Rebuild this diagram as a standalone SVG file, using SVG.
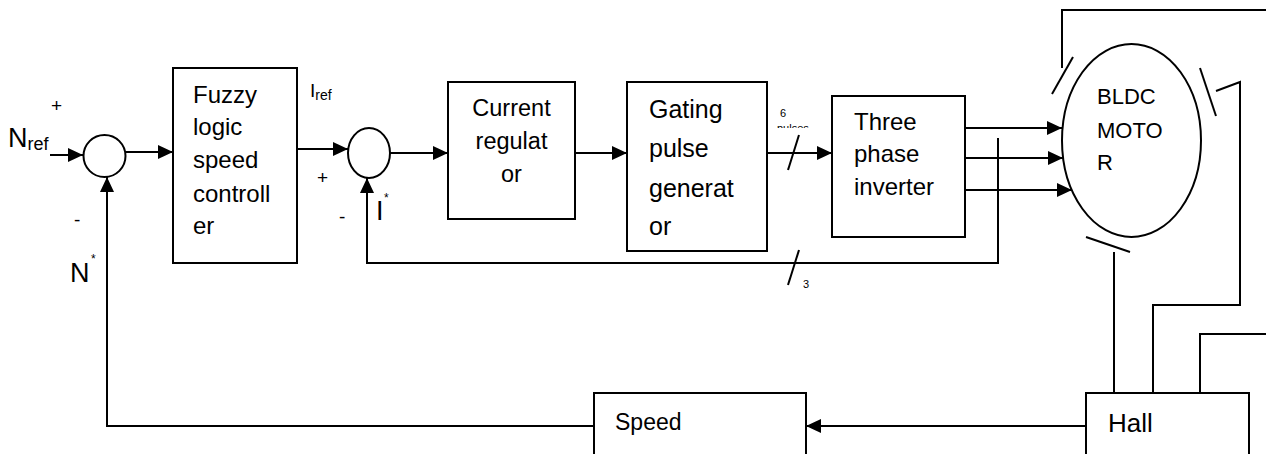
<svg xmlns="http://www.w3.org/2000/svg" width="1266" height="454" viewBox="0 0 1266 454">
<style>
.box{fill:#fff;stroke:#000;stroke-width:2}
.ln{fill:none;stroke:#000;stroke-width:2}
.arr{fill:none;stroke:#000;stroke-width:2;marker-end:url(#ah)}
text{font-family:"Liberation Sans",Arial,sans-serif;fill:#000}
.t{font-size:24px}
.big{font-size:27px}
</style>
<defs>
<marker id="ah" markerUnits="userSpaceOnUse" markerWidth="16" markerHeight="14" refX="15" refY="7" orient="auto">
<path d="M0,0 L15,7 L0,14 z" fill="#000"/>
</marker>
<clipPath id="pc"><rect x="770" y="100" width="60" height="28"/></clipPath>
</defs>
<rect width="1266" height="454" fill="#fff"/>

<g id="connectors">
<line class="arr" x1="50" y1="155" x2="83" y2="155"/>
<line class="arr" x1="126" y1="152" x2="173" y2="152"/>
<line class="arr" x1="297" y1="149" x2="348" y2="149"/>
<line class="arr" x1="390" y1="153" x2="448" y2="153"/>
<line class="arr" x1="575" y1="153" x2="627" y2="153"/>
<line class="arr" x1="767" y1="153" x2="832" y2="153"/>
<line class="ln" x1="788" y1="170" x2="799" y2="135"/>
<line class="arr" x1="965" y1="128" x2="1062" y2="128"/>
<line class="arr" x1="965" y1="158" x2="1063" y2="158"/>
<line class="arr" x1="965" y1="190" x2="1072" y2="190"/>
<polyline class="ln" points="998,138 998,263 367,263 367,194"/>
<line class="arr" x1="367" y1="200" x2="367" y2="178"/>
<line class="ln" x1="788" y1="285" x2="799" y2="250"/>
<polyline class="ln" points="594,426 107,426 107,195"/>
<line class="arr" x1="107" y1="200" x2="107" y2="177"/>
<line class="arr" x1="1086" y1="426" x2="806" y2="426"/>
<polyline class="ln" points="1062,68 1062,10 1266,10"/>
<line class="ln" x1="1052" y1="94" x2="1073" y2="57"/>
<line class="ln" x1="1200" y1="68" x2="1216" y2="116"/>
<polyline class="ln" points="1216,91 1240,82 1240,305 1153,305 1153,393"/>
<line class="ln" x1="1086" y1="237" x2="1130" y2="252"/>
<line class="ln" x1="1114" y1="252" x2="1114" y2="393"/>
<polyline class="ln" points="1266,334 1200,334 1200,393"/>
</g>

<g id="labels">
<text x="8" y="147" class="big">N<tspan font-size="18" dy="3">ref</tspan></text>
<text x="51" y="112" font-size="19">+</text>
<text x="74" y="226" font-size="19">-</text>
<text x="70" y="282" class="big">N</text>
<text x="91" y="263" font-size="12">*</text>
<text x="310" y="97" font-size="19">I<tspan font-size="14" dy="3">ref</tspan></text>
<text x="317" y="184" font-size="19">+</text>
<text x="339" y="223" font-size="19">-</text>
<text x="376" y="220" class="big">I</text>
<text x="384" y="202" font-size="12">*</text>
<text x="780" y="117" font-size="11">6</text>
<text x="777" y="132" font-size="11" clip-path="url(#pc)">pulses</text>
<text x="803" y="288" font-size="11">3</text>
</g>

<g id="n1"><ellipse class="box" cx="104.5" cy="156" rx="21" ry="21"/></g>
<g id="fuzzy">
<rect class="box" x="173" y="68" width="124" height="195"/>
<text class="t" x="193" y="103">Fuzzy</text>
<text class="t" x="193" y="135">logic</text>
<text class="t" x="193" y="168">speed</text>
<text class="t" x="193" y="202">controll</text>
<text class="t" x="193" y="234">er</text>
</g>
<g id="n2"><ellipse class="box" cx="369" cy="153" rx="21" ry="25"/></g>
<g id="current">
<rect class="box" x="448" y="82" width="127" height="137"/>
<text x="511.5" y="116" font-size="23.5" text-anchor="middle">Current</text>
<text x="511.5" y="149" font-size="23.5" text-anchor="middle">regulat</text>
<text x="511.5" y="182" font-size="23.5" text-anchor="middle">or</text>
</g>
<g id="gating">
<rect class="box" x="627" y="82" width="140" height="169"/>
<text x="649" y="118" font-size="25">Gating</text>
<text x="649" y="157" font-size="25">pulse</text>
<text x="649" y="197" font-size="25">generat</text>
<text x="649" y="235" font-size="25">or</text>
</g>
<g id="inverter">
<rect class="box" x="832" y="96" width="133" height="141"/>
<text class="t" x="854" y="130">Three</text>
<text class="t" x="854" y="162">phase</text>
<text class="t" x="854" y="195">inverter</text>
</g>
<g id="motor">
<ellipse class="box" cx="1131.5" cy="140.5" rx="69.5" ry="96.5"/>
<text x="1097" y="104" font-size="22">BLDC</text>
<text x="1097" y="138" font-size="22">MOTO</text>
<text x="1097" y="170" font-size="22">R</text>
</g>
<g id="hall">
<rect class="box" x="1086" y="393" width="163" height="70"/>
<text x="1108" y="432" font-size="26">Hall</text>
</g>
<g id="speed">
<rect class="box" x="594" y="393" width="212" height="70"/>
<text x="615" y="430" font-size="23">Speed</text>
</g>
</svg>
